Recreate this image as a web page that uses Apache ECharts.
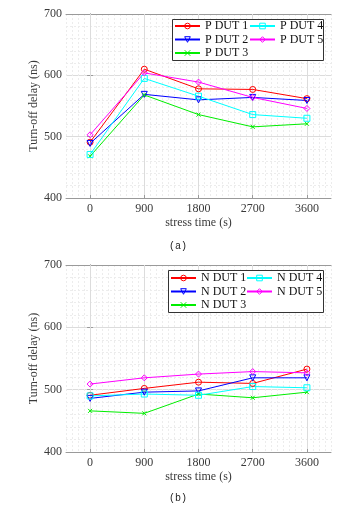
<!DOCTYPE html>
<html>
<head>
<meta charset="utf-8">
<script src="https://cdn.jsdelivr.net/npm/echarts@6/dist/echarts.min.js"></script>
<style>html,body{margin:0;padding:0;background:#fff;}#c{width:356px;height:512px;}</style>
</head>
<body>
<div id="c"></div>
<script>
// ---- data ----
var stressTimes = [0, 900, 1800, 2700, 3600];
var yTicks = [400, 500, 600, 700];

var pNames = ['P DUT 1', 'P DUT 2', 'P DUT 3', 'P DUT 4', 'P DUT 5'];
var pDut1 = [491, 610, 578, 577, 562];
var pDut2 = [489, 569, 560, 564, 559];
var pDut3 = [468, 568, 536, 516, 521];
var pDut4 = [471, 595, 566, 536, 530];
var pDut5 = [503, 604, 589, 564, 546];

var nNames = ['N DUT 1', 'N DUT 2', 'N DUT 3', 'N DUT 4', 'N DUT 5'];
var nDut1 = [491, 502, 512, 510, 533];
var nDut2 = [486, 496, 498, 519, 519];
var nDut3 = [466, 462, 493, 487, 496];
var nDut4 = [490, 493, 491, 505, 503];
var nDut5 = [509, 519, 525, 529, 527];

var colors = ['#ff0000', '#0000ff', '#00ee00', '#00ffff', '#ff00ff'];
var symbols = ['circle', 'triangle', 'path://M0,0L10,10M10,0L0,10', 'rect', 'diamond'];
var symRot = [0, 180, 0, 0, 0];
var symSize = [6, 6, 4, 6, 6];

var serif = 'Liberation Serif';
var axisGray = '#9a9a9a';
var textGray = '#3a3a3a';

function pairs(vals) {
  return stressTimes.map(function (t, i) { return [t, vals[i]]; });
}

var grids = [
  { left: 66, right: 25, top: 14, height: 184 },
  { left: 66, right: 25, top: 265, height: 187 }
];

var xAxes = [], yAxes = [], series = [], legends = [], graphics = [];

function buildPanel(g, names, data) {
  var xBase = xAxes.length;
  var yBase = yAxes.length;
  // minor vertical grid
  xAxes.push({
    type: 'value', gridIndex: g, min: -400, max: 4000, interval: 100, position: 'bottom',
    axisLine: { show: false }, axisTick: { show: false }, axisLabel: { show: false },
    splitLine: { show: true, lineStyle: { color: '#ececec', type: [2, 2], width: 1 } }, z: 0
  });
  // main bottom axis
  xAxes.push({
    type: 'value', gridIndex: g, min: -400, max: 4000, position: 'bottom',
    name: 'stress time (s)', nameLocation: 'middle', nameGap: 19, nameMoveOverlap: false,
    nameTextStyle: { fontFamily: serif, fontSize: 12, color: textGray, verticalAlign: 'top' },
    axisLine: { show: true, lineStyle: { color: axisGray, width: 1 } },
    axisTick: { show: true, inside: true, length: 3, lineStyle: { color: axisGray }, customValues: stressTimes },
    axisLabel: { show: true, customValues: stressTimes, fontFamily: serif, fontSize: 12, color: textGray, margin: 5,
      formatter: function (v) { return String(v); } },
    splitLine: { show: true, lineStyle: { color: '#dcdcdc', width: 1 } }, z: 1
  });
  // top mirror axis
  xAxes.push({
    type: 'value', gridIndex: g, min: -400, max: 4000, position: 'top',
    axisLine: { show: true, lineStyle: { color: axisGray, width: 1 } },
    axisTick: { show: true, inside: true, length: 3, lineStyle: { color: axisGray }, customValues: stressTimes },
    axisLabel: { show: false, customValues: stressTimes },
    splitLine: { show: false }
  });
  // left y axis
  yAxes.push({
    type: 'value', gridIndex: g, min: 400, max: 700, interval: 100, position: 'left',
    name: 'Turn-off delay (ns)', nameLocation: 'middle', nameGap: 26, nameRotate: 90, nameMoveOverlap: false,
    nameTextStyle: { fontFamily: serif, fontSize: 12, color: textGray },
    axisLine: { show: true, lineStyle: { color: axisGray, width: 1 } },
    axisTick: { show: true, inside: true, length: 3, lineStyle: { color: axisGray } },
    axisLabel: { show: true, fontFamily: serif, fontSize: 12, color: textGray, margin: 4 },
    splitLine: { show: true, lineStyle: { color: '#dcdcdc', width: 1 } },
    minorTick: { show: false, splitNumber: 5 },
    minorSplitLine: { show: true, lineStyle: { color: '#ececec', type: [2, 2], width: 1 } }
  });
  // right mirror y axis
  yAxes.push({
    type: 'value', gridIndex: g, min: 400, max: 700, interval: 100, position: 'right',
    axisLine: { show: true, lineStyle: { color: axisGray, width: 1 } },
    axisTick: { show: true, inside: true, length: 3, lineStyle: { color: axisGray } },
    axisLabel: { show: false }, splitLine: { show: false }
  });
  names.forEach(function (nm, i) {
    series.push({
      type: 'line', name: nm, xAxisIndex: xBase + 1, yAxisIndex: yBase,
      data: pairs(data[i]),
      symbol: symbols[i], symbolRotate: symRot[i], symbolSize: symSize[i], showSymbol: true,
      lineStyle: { color: colors[i], width: 1 },
      itemStyle: { color: 'rgba(255,255,255,0)', borderColor: colors[i], borderWidth: 1 },
      emphasis: { disabled: true }, animation: false, z: 2
    });
  });
}

buildPanel(0, pNames, [pDut1, pDut2, pDut3, pDut4, pDut5]);
buildPanel(1, nNames, [nDut1, nDut2, nDut3, nDut4, nDut5]);

function legendPair(names, top, leftA, leftB) {
  var common = {
    orient: 'vertical', top: top, itemWidth: 25, itemHeight: 7, itemGap: 1.5,
    textStyle: { fontFamily: serif, fontSize: 12, color: '#111' },
    itemStyle: { color: 'rgba(255,255,255,0)', borderWidth: 1 },
    padding: 0, selectedMode: false, z: 10
  };
  legends.push(Object.assign({}, common, { left: leftA, data: names.slice(0, 3) }));
  legends.push(Object.assign({}, common, { left: leftB, data: names.slice(3) }));
}
legendPair(pNames, 20, 174, 249);
legendPair(nNames, 272, 170, 246);

graphics.push({ type: 'rect', shape: { x: 172.5, y: 19.5, width: 151, height: 41 },
  style: { fill: '#fff', stroke: '#333', lineWidth: 1 }, z: 3 });
graphics.push({ type: 'rect', shape: { x: 168.5, y: 270.5, width: 155, height: 42 },
  style: { fill: '#fff', stroke: '#333', lineWidth: 1 }, z: 3 });

var chart = echarts.init(document.getElementById('c'), null, { renderer: 'canvas' });
chart.setOption({
  animation: false,
  backgroundColor: '#fff',
  title: [
    { text: '(a)', left: 'center', top: 241, padding: 0, textStyle: { fontFamily: 'Liberation Mono', fontSize: 10, fontWeight: 'normal', color: '#222' } },
    { text: '(b)', left: 'center', top: 493, padding: 0, textStyle: { fontFamily: 'Liberation Mono', fontSize: 10, fontWeight: 'normal', color: '#222' } }
  ],
  grid: grids,
  xAxis: xAxes,
  yAxis: yAxes,
  legend: legends,
  graphic: { elements: graphics },
  series: series
});
</script>
</body>
</html>
